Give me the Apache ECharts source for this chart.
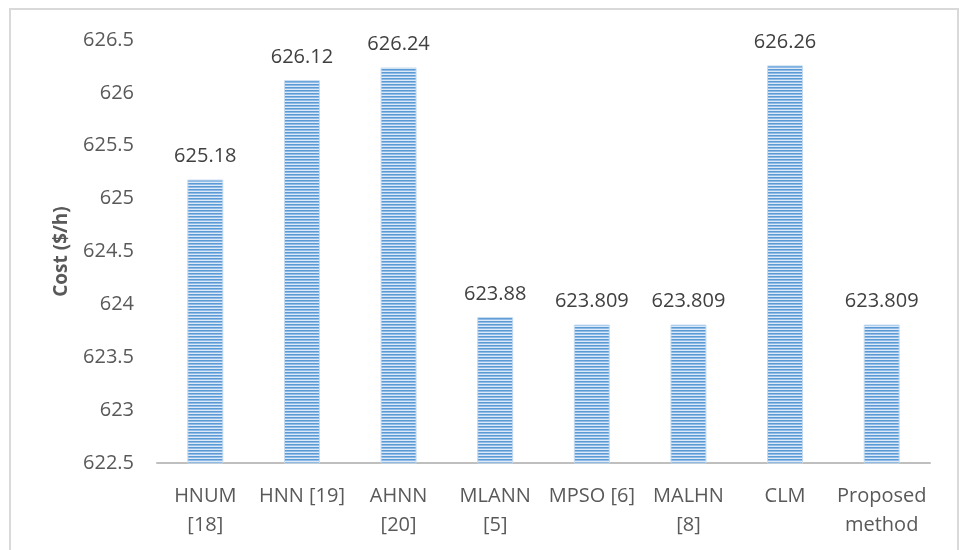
<!DOCTYPE html>
<html>
<head>
<meta charset="utf-8">
<script src="https://cdn.jsdelivr.net/npm/echarts@6/dist/echarts.min.js"></script>
<style>
  html, body { margin: 0; padding: 0; background: #fff; }
</style>
</head>
<body>
<div id="main" style="width: 960px; height: 550px;"></div>
<script>
// 数据
var categories = ['HNUM\n[18]', 'HNN [19]', 'AHNN\n[20]', 'MLANN\n[5]', 'MPSO [6]', 'MALHN\n[8]', 'CLM', 'Proposed\nmethod']
var costValues = [625.18, 626.12, 626.24, 623.88, 623.809, 623.809, 626.26, 623.809]
var costLabels = ['625.18', '626.12', '626.24', '623.88', '623.809', '623.809', '626.26', '623.809']

// 横条纹填充
var stripe = document.createElement('canvas')
stripe.width = 4
stripe.height = 3
var ctx = stripe.getContext('2d')
ctx.fillStyle = '#5b9bd5'
ctx.fillRect(0, 0, 4, 1)
ctx.fillStyle = '#8fbbe6'
ctx.fillRect(0, 1, 4, 1)
ctx.fillStyle = '#dde9f6'
ctx.fillRect(0, 2, 4, 1)

var myChart = echarts.init(document.getElementById('main'))
myChart.setOption({
  animation: false,
  textStyle: { fontFamily: 'Open Sans' },
  graphic: [
    {
      type: 'rect',
      shape: { x: 10, y: 9, width: 948, height: 560 },
      style: { fill: 'none', stroke: '#d9d9d9', lineWidth: 2 },
      silent: true
    }
  ],
  grid: {
    left: 157,
    right: 30,
    top: 40,
    bottom: 87
  },
  xAxis: {
    type: 'category',
    data: categories,
    axisTick: { show: false },
    axisLine: {
      lineStyle: { color: '#bfbfbf', width: 2 }
    },
    axisLabel: {
      color: '#595959',
      fontSize: 20,
      lineHeight: 29,
      margin: 19,
      interval: 0
    }
  },
  yAxis: {
    type: 'value',
    min: 622.5,
    max: 626.5,
    interval: 0.5,
    name: 'Cost ($/h)',
    nameLocation: 'middle',
    nameGap: 86,
    nameTextStyle: {
      color: '#595959',
      fontSize: 19,
      fontWeight: 'bold'
    },
    axisLine: { show: false },
    axisTick: { show: false },
    splitLine: { show: false },
    axisLabel: {
      color: '#595959',
      fontSize: 20,
      margin: 23
    }
  },
  series: [
    {
      type: 'bar',
      barWidth: 36,
      data: costValues,
      itemStyle: {
        color: { image: stripe, repeat: 'repeat' },
        borderColor: '#c5dbf1',
        borderWidth: 1
      },
      label: {
        show: true,
        position: 'top',
        distance: 13,
        color: '#404040',
        fontSize: 20,
        formatter: function (p) { return costLabels[p.dataIndex] }
      }
    }
  ]
})
</script>
</body>
</html>
